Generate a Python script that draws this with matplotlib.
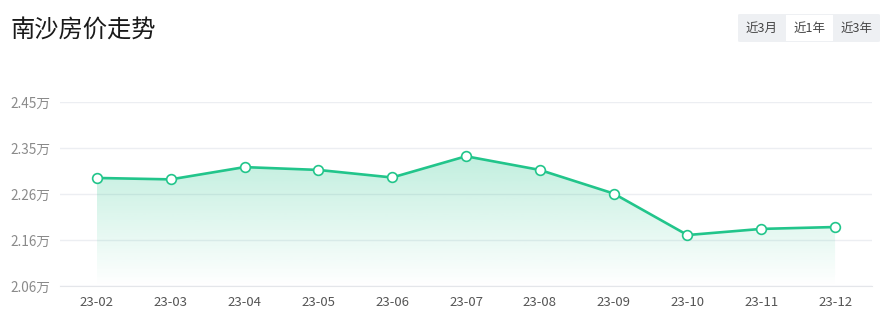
import matplotlib
matplotlib.use("Agg")
import matplotlib.pyplot as plt
import numpy as np
from matplotlib.patches import FancyBboxPatch, Rectangle

plt.rcParams['font.family'] = ['Noto Sans CJK SC', 'DejaVu Sans']

months = ["23-02", "23-03", "23-04", "23-05", "23-06", "23-07", "23-08", "23-09", "23-10", "23-11", "23-12"]
prices = [2.289, 2.286, 2.312, 2.306, 2.290, 2.335, 2.306, 2.256, 2.168, 2.181, 2.185]
ytick_vals = [2.06, 2.1575, 2.255, 2.3525, 2.45]
ytick_labels = ["2.06万", "2.16万", "2.26万", "2.35万", "2.45万"]
title = "南沙房价走势"
buttons = ["近3月", "近1年", "近3年"]

W, H = 890, 324
fig = plt.figure(figsize=(W / 100, H / 100), dpi=100)
ax = fig.add_axes([60 / W, (H - 286) / H, (872 - 60) / W, (286 - 102) / H])

green = "#22c58b"
x = np.arange(len(months))
y = np.array(prices)

ax.set_xlim(-0.5, len(months) - 0.5)
ax.set_ylim(ytick_vals[0], ytick_vals[-1])

# gradient fill
base = ytick_vals[0]
top = y.max()
poly = ax.fill_between(x, y, base, color="none", lw=0)
grad = np.linspace(0, 1, 256).reshape(-1, 1)
rgba = np.zeros((256, 1, 4))
rgba[..., 0] = 0x22 / 255
rgba[..., 1] = 0xc5 / 255
rgba[..., 2] = 0x8b / 255
rgba[..., 3] = grad * 0.28
im = ax.imshow(rgba, extent=[x[0], x[-1], base, top], origin="lower", aspect="auto", zorder=1)
path = poly.get_paths()[0]
im.set_clip_path(path, transform=ax.transData)

ax.plot(x, y, color=green, lw=1.9, zorder=3, marker="o", markersize=7,
        markerfacecolor="white", markeredgecolor=green, markeredgewidth=1.2)

ax.set_yticks(ytick_vals)
ax.set_yticklabels(ytick_labels)
ax.set_xticks(x)
ax.set_xticklabels(months)
ax.grid(axis="y", color="#eceef2", lw=1)
ax.set_axisbelow(True)
for s in ["top", "right", "left"]:
    ax.spines[s].set_visible(False)
ax.spines["bottom"].set_color("#e4e6ea")
ax.tick_params(axis="both", length=0)
ax.tick_params(axis="y", labelsize=9.8, colors="#8a8a8a", pad=7)
ax.tick_params(axis="x", labelsize=9.5, colors="#555555", pad=7)

fig.text(11 / W, 1 - 30 / H, title, fontsize=17.5, color="#1a1a1a", va="center", ha="left")

# buttons
bx0, by0, bx1, by1 = 738, 14, 880, 42
fig.patches.append(FancyBboxPatch((bx0 / W, 1 - by1 / H), (bx1 - bx0) / W, (by1 - by0) / H,
                                  boxstyle="round,pad=0,rounding_size=0.003", transform=fig.transFigure,
                                  facecolor="#eef0f3", edgecolor="none"))
fig.patches.append(Rectangle((786 / W, 1 - 41 / H), (833 - 786) / W, 26 / H,
                             transform=fig.transFigure, facecolor="white", edgecolor="none"))
for cx, t in zip([762, 810, 857], buttons):
    fig.text(cx / W, 1 - 28.5 / H, t, fontsize=9, color="#444444", ha="center", va="center")

fig.savefig("out.png", dpi=100)
